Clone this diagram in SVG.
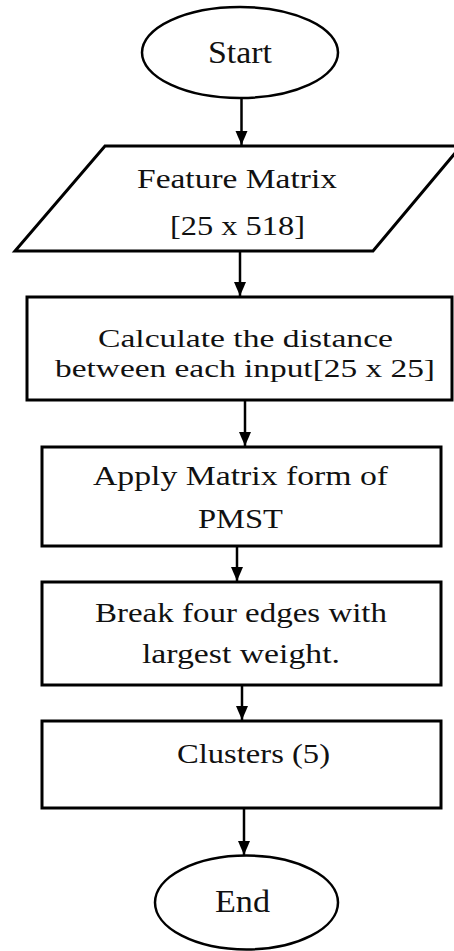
<svg xmlns="http://www.w3.org/2000/svg" width="454" height="951" viewBox="0 0 454 951">
<style>
.shape{fill:#fff;stroke:#000;stroke-width:3}
.oval{fill:#fff;stroke:#000;stroke-width:2.5}
.t{font-family:"Liberation Serif","Times New Roman","DejaVu Serif",serif;font-size:28px;fill:#111;text-anchor:middle}
.s{font-size:26px}
.c{stroke:#000;stroke-width:2.5;fill:none}
</style>
<defs>
<marker id="ah" markerUnits="userSpaceOnUse" markerWidth="14" markerHeight="14" viewBox="0 0 14 14" refX="14" refY="7" orient="auto">
<path d="M0,1 L14,7 L0,13 Z" fill="#000"/>
</marker>
</defs>
<rect width="454" height="951" fill="#fff"/>
<g id="connectors">
<line class="c" x1="241.5" y1="98" x2="241.5" y2="145" marker-end="url(#ah)"/>
<line class="c" x1="240" y1="252" x2="240" y2="296" marker-end="url(#ah)"/>
<line class="c" x1="245" y1="401" x2="245" y2="446" marker-end="url(#ah)"/>
<line class="c" x1="237" y1="547" x2="237" y2="581" marker-end="url(#ah)"/>
<line class="c" x1="242" y1="686" x2="242" y2="720" marker-end="url(#ah)"/>
<line class="c" x1="244" y1="809" x2="244" y2="855" marker-end="url(#ah)"/>
</g>
<g id="start">
<ellipse class="oval" cx="240" cy="52.5" rx="98" ry="45.5"/>
<text class="t" font-family="Liberation Serif, serif" x="240" y="63" textLength="64" lengthAdjust="spacingAndGlyphs" style="font-size:31px">Start</text>
</g>
<g id="feature-matrix">
<polygon class="shape" points="105,146 461,146 373,251 15,251"/>
<text class="t" x="237" y="188" textLength="200" lengthAdjust="spacingAndGlyphs">Feature Matrix</text>
<text class="t" x="237.5" y="235" textLength="135" lengthAdjust="spacingAndGlyphs">[25 x 518]</text>
</g>
<g id="calculate">
<rect class="shape" x="27" y="297" width="425" height="103"/>
<text class="t s" x="245.5" y="347" textLength="295" lengthAdjust="spacingAndGlyphs">Calculate the distance</text>
<text class="t s" x="245" y="377" textLength="380" lengthAdjust="spacingAndGlyphs">between each input[25 x 25]</text>
</g>
<g id="apply">
<rect class="shape" x="42" y="447" width="399" height="99"/>
<text class="t" x="240.5" y="485" textLength="295" lengthAdjust="spacingAndGlyphs">Apply Matrix form of</text>
<text class="t" x="240.5" y="528" textLength="85" lengthAdjust="spacingAndGlyphs">PMST</text>
</g>
<g id="break">
<rect class="shape" x="42" y="582" width="399" height="103"/>
<text class="t" x="241" y="622" textLength="292" lengthAdjust="spacingAndGlyphs">Break four edges with</text>
<text class="t" x="241" y="663" textLength="198" lengthAdjust="spacingAndGlyphs">largest weight.</text>
</g>
<g id="clusters">
<rect class="shape" x="42" y="721" width="399" height="87"/>
<text class="t" x="253.5" y="763" textLength="153" lengthAdjust="spacingAndGlyphs">Clusters (5)</text>
</g>
<g id="end">
<ellipse class="oval" cx="246.5" cy="902.5" rx="91.5" ry="47"/>
<text class="t" x="242.5" y="912" textLength="55" lengthAdjust="spacingAndGlyphs" style="font-size:32px">End</text>
</g>
</svg>
